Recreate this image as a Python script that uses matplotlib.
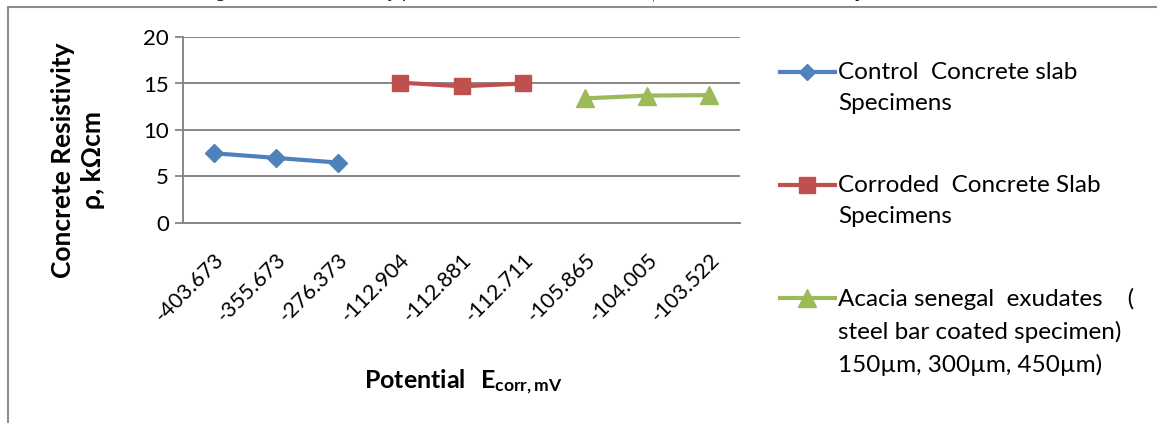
import matplotlib
matplotlib.use("Agg")
import matplotlib.pyplot as plt
from matplotlib.lines import Line2D
from matplotlib.patches import Rectangle

plt.rcParams['font.family'] = ['Lato', 'DejaVu Sans']
plt.rcParams['mathtext.fontset'] = 'custom'
plt.rcParams['mathtext.rm'] = 'Lato'
plt.rcParams['mathtext.bf'] = 'Lato:bold'

# corrosion potential (mV) used as category labels
potentials = ['-403.673', '-355.673', '-276.373',
              '-112.904', '-112.881', '-112.711',
              '-105.865', '-104.005', '-103.522']

# resistivity, kOhm cm
control = [7.5, 7.0, 6.5]
corroded = [15.1, 14.7, 15.0]
acacia = [13.4, 13.7, 13.75]

labels = ['Control  Concrete slab\nSpecimens',
          'Corroded  Concrete Slab\nSpecimens',
          'Acacia senegal  exudates    (\nsteel bar coated specimen)\n150µm, 300µm, 450µm)']
colors = ['#4F81BD', '#C0504D', '#9BBB59']
markers = ['D', 's', '^']
msizes = [9, 12, 13]

W, H = 1157, 423
fig = plt.figure(figsize=(W / 100, H / 100), dpi=100)
ax = fig.add_axes([183 / W, 1 - 223 / H, 557 / W, 186 / H])

x = list(range(len(potentials)))
series = [(x[0:3], control), (x[3:6], corroded), (x[6:9], acacia)]
for (xs, ys), c, m, ms in zip(series, colors, markers, msizes):
    ax.plot(xs, ys, color=c, lw=3, marker=m, ms=ms, mec=c, mfc=c, zorder=3)

ax.set_xlim(-0.5, len(potentials) - 0.5)
ax.set_ylim(0, 20)
ax.set_yticks([0, 5, 10, 15, 20])
ax.set_xticks(x)
ax.set_xticklabels(potentials, rotation=45, ha='right', va='top',
                   rotation_mode='anchor')
ax.tick_params(axis='x', length=0, pad=19, labelsize=15.5)
ax.tick_params(axis='y', length=6, width=1.3, color='#868686', labelsize=16, pad=4)
ax.yaxis.grid(True, color='#868686', lw=1.4)
ax.set_axisbelow(True)
for s in ['top', 'right']:
    ax.spines[s].set_visible(False)
for s in ['left', 'bottom']:
    ax.spines[s].set_color('#868686')
    ax.spines[s].set_linewidth(1.4)

fig.text(78 / W, 1 - 160 / H, 'Concrete Resistivity\nρ, kΩcm', rotation=90,
         ha='center', va='center', fontsize=19, fontweight='bold',
         multialignment='center', linespacing=1.3)
fig.text(463 / W, 1 - 382 / H, r'$\mathbf{Potential\ \;E_{corr,mV}}$',
         ha='center', va='center', fontsize=18)

# legend drawn by hand so the handle sits on the first text line
leg_y = [72, 185, 298]
for lab, c, m, ms, yp in zip(labels, colors, markers, msizes, leg_y):
    yf = 1 - yp / H
    fig.add_artist(Line2D([780 / W, 835 / W], [yf, yf], color=c, lw=3,
                          transform=fig.transFigure))
    fig.add_artist(Line2D([807 / W], [yf], color=c, marker=m, ms=ms * 0.95,
                          mec=c, mfc=c, transform=fig.transFigure))
    fig.text(838 / W, yf + 10 / H, lab, ha='left', va='top', fontsize=17.5,
             linespacing=1.6)

# chart area border
fig.add_artist(Rectangle((8 / W, -0.05), 1.1, 1 - 7 / H + 0.05, fill=False,
                         ec='#8c8c8c', lw=1.5, transform=fig.transFigure))

# caption line above the chart
fig.text(200 / W, 1 + 3 / H,
         'Fig. 5: Concrete Resistivity ρ, versus Corrosion Potential E$_{corr,}$ mV of the Concrete Slab Specimens',
         family=['Liberation Serif', 'DejaVu Serif'], fontsize=13,
         ha='left', va='baseline')

fig.savefig('out.png', dpi=100)
